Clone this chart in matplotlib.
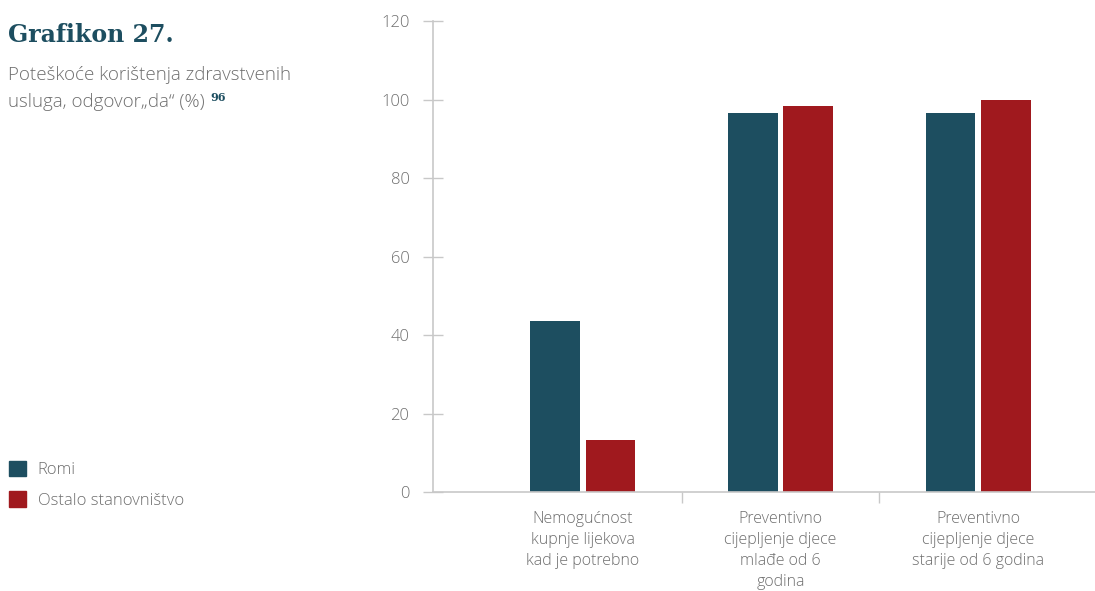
import matplotlib
matplotlib.use("Agg")
import matplotlib.pyplot as plt
import numpy as np

categories = ["Nemogućnost\nkupnje lijekova\nkad je potrebno",
              "Preventivno\ncijepljenje djece\nmlađe od 6\ngodina",
              "Preventivno\ncijepljenje djece\nstarije od 6 godina"]
series_names = ["Romi", "Ostalo stanovništvo"]
romi = [43.6, 96.6, 96.6]
ostalo = [13.3, 98.4, 99.9]
yticks = [0, 20, 40, 60, 80, 100, 120]

C_TEAL = "#1d4e60"
C_RED = "#a0191e"
C_GRAY = "#6e6e6e"
C_AX = "#c8c8c8"

plt.rcParams['font.family'] = ['Open Sans', 'DejaVu Sans']

fig = plt.figure(figsize=(10.95, 5.91), dpi=100)
ax = fig.add_axes([433/1095, 1-492/591, (1095-433)/1095, (492-21)/591])

x = np.arange(len(categories))
w = 0.25
off = 0.14
ax.bar(x - off, romi, w, color=C_TEAL, label=series_names[0])
ax.bar(x + off, ostalo, w, color=C_RED, label=series_names[1])

ax.set_ylim(0, 120)
ax.set_xlim(-0.757, 0.59 + 2)
ax.set_yticks(yticks)
ax.set_yticklabels([str(v) for v in yticks], color=C_GRAY, fontsize=12, fontweight='light')
ax.tick_params(axis='y', direction='inout', length=14, width=1, color=C_AX, pad=10)

ax.set_xticks(x)
ax.set_xticklabels(categories, color=C_GRAY, fontsize=11.5, fontweight='light', linespacing=1.4, va='top')
ax.tick_params(axis='x', length=0, pad=14)
ax.set_xticks([0.5, 1.5], minor=True)
ax.tick_params(axis='x', which='minor', direction='out', length=8, width=1, color=C_AX)

for s in ['top', 'right']:
    ax.spines[s].set_visible(False)
for s in ['left', 'bottom']:
    ax.spines[s].set_color(C_AX)
    ax.spines[s].set_linewidth(1.2)

# Title and subtitle
fig.text(8/1095, 1-42/591, "Grafikon 27.", family=['DejaVu Serif'],
         fontweight='bold', fontsize=17, color=C_TEAL, va='baseline')
fig.text(8/1095, 1-80/591, "Poteškoće korištenja zdravstvenih", fontsize=13.5,
         color=C_GRAY, fontweight='light', va='baseline')
t = fig.text(8/1095, 1-107/591, "usluga, odgovor\u201eda\u201c (%) ", fontsize=13.5,
             color=C_GRAY, fontweight='light', va='baseline')
fig.canvas.draw()
bb = t.get_window_extent()
fig.text(bb.x1/1095 + 1/1095, 1-101/591, "96", family=['DejaVu Serif'],
         fontweight='bold', fontsize=8, color=C_TEAL, va='baseline')

# Legend
handles = [plt.Rectangle((0, 0), 1, 1, color=C_TEAL), plt.Rectangle((0, 0), 1, 1, color=C_RED)]
fig.legend(handles, series_names, loc='upper left', bbox_to_anchor=(-3/1095, 1-449/591),
           frameon=False, handlelength=1.05, handleheight=1.05, handletextpad=0.7,
           labelspacing=0.8, prop={'family': ['Open Sans', 'DejaVu Sans'], 'weight': 'light', 'size': 12},
           labelcolor=C_GRAY, borderaxespad=0.3)

fig.savefig("out.png", dpi=100)
